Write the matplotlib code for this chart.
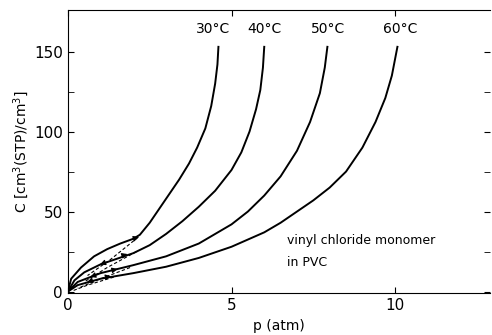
import matplotlib
matplotlib.use("Agg")
import matplotlib.pyplot as plt

# sorption isotherms: p (atm), C [cm3(STP)/cm3]
p_30 = [0, 0.1, 0.4, 0.8, 1.2, 1.6, 2.0, 2.2, 2.5, 2.8, 3.1, 3.4, 3.7, 3.95, 4.2, 4.38, 4.5, 4.57, 4.6]
c_30 = [0, 8, 15, 22, 26.5, 30, 33, 35.5, 43, 52, 61, 70, 80, 90, 102, 116, 130, 142, 153]

p_40 = [0, 0.2, 0.5, 1.0, 1.5, 2.0, 2.5, 3.0, 3.5, 4.0, 4.5, 5.0, 5.3, 5.55, 5.75, 5.88, 5.96, 6.0]
c_40 = [0, 7, 12, 17, 20.5, 24, 29, 36, 44, 53, 63, 76, 87, 100, 114, 126, 140, 153]

p_50 = [0, 0.3, 1.0, 2.0, 3.0, 4.0, 5.0, 5.5, 6.0, 6.5, 7.0, 7.4, 7.7, 7.85, 7.93]
c_50 = [0, 6, 11.5, 16.5, 22, 30, 42, 50, 60, 72, 88, 106, 124, 140, 153]

p_60 = [0, 0.3, 1.0, 2.0, 3.0, 4.0, 5.0, 6.0, 6.5, 7.0, 7.5, 8.0, 8.5, 9.0, 9.4, 9.7, 9.9, 10.07]
c_60 = [0, 4, 8, 11.5, 15.5, 21, 28, 37, 43, 50, 57, 65, 75, 90, 106, 121, 135, 153]

labels = ["30°C", "40°C", "50°C", "60°C"]
label_x = [4.45, 6.0, 7.95, 10.15]

# dashed desorption branches near the origin
dash_segments = [
    ([2.15, 1.3, 0.6], [34, 20, 10]),
    ([2.1, 1.2, 0.5], [25, 15, 6]),
    ([1.9, 1.0, 0.3], [15, 8, 2]),
    ([1.4, 0.6, 0.15], [9, 4, 0.5]),
]

# arrows on the curves: (x, y, dx, dy)
arrows = [
    (2.0, 33.0, 0.25, 1.8),
    (1.2, 18.6, -0.3, -2.3),
    (1.6, 22.0, 0.3, 2.0),
    (0.9, 10.7, -0.3, -2.2),
    (1.3, 13.0, 0.3, 1.5),
    (0.8, 7.2, -0.3, -1.8),
    (1.1, 8.8, 0.3, 1.0),
]

fig = plt.figure(figsize=(4.92, 3.35), dpi=100)
ax = fig.add_axes([0.138, 0.125, 0.858, 0.845])

for p, c in [(p_30, c_30), (p_40, c_40), (p_50, c_50), (p_60, c_60)]:
    ax.plot(p, c, color="black", lw=1.4, solid_joinstyle="round")

for xs, ys in dash_segments:
    ax.plot(xs, ys, color="black", lw=0.8, ls=(0, (3, 2)))

for x, y, dx, dy in arrows:
    ax.annotate("", xy=(x + dx, y + dy), xytext=(x, y),
                arrowprops=dict(arrowstyle="-|>", color="black", lw=0.8,
                                mutation_scale=8))

for lab, x in zip(labels, label_x):
    ax.text(x, 164, lab, ha="center", va="center", fontsize=10)

ax.text(6.7, 32, "vinyl chloride monomer", fontsize=9, va="center")
ax.text(6.7, 18, "in PVC", fontsize=9, va="center")

ax.set_xlim(0, 12.9)
ax.set_ylim(-1, 176)
ax.set_xticks([0, 5, 10])
ax.set_yticks([0, 50, 100, 150])
ax.set_yticks([25, 75, 125], minor=True)
ax.tick_params(direction="in", top=True, right=True, labelsize=11, length=4)
ax.tick_params(which="minor", direction="in", right=True, length=4)

ax.set_xlabel("p (atm)", fontsize=10)
ax.set_ylabel("C [cm$^3$(STP)/cm$^3$]", fontsize=10, labelpad=2)
ax.spines["right"].set_visible(False)

fig.savefig("out.png", dpi=100)
